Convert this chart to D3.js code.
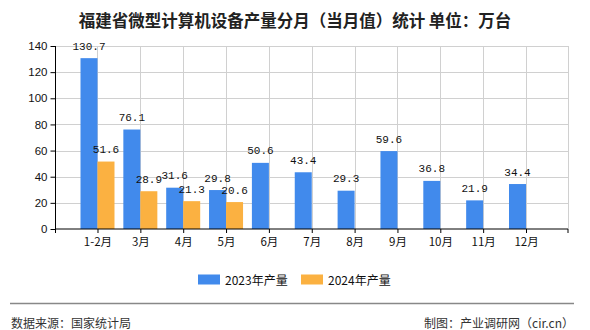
<!DOCTYPE html>
<html>
<head>
<meta charset="utf-8">
<script src="https://cdn.jsdelivr.net/npm/d3@7"></script>
<style>
html,body{margin:0;padding:0;background:#fff;}
svg{display:block;}
</style>
</head>
<body>
<svg id="chart" width="590" height="330"></svg>
<script>
const categories = ["1-2月","3月","4月","5月","6月","7月","8月","9月","10月","11月","12月"];
const values2023 = [130.7,76.1,31.6,29.8,50.6,43.4,29.3,59.6,36.8,21.9,34.4];
const values2024 = [51.6,28.9,21.3,20.6,null,null,null,null,null,null,null];
const yTicks = [0,20,40,60,80,100,120,140];
const seriesNames = ["2023年产量","2024年产量"];
const colors = ["#418AEC","#FBB141"];

(function(){
const svg = d3.select("#chart");
const pL = 55.5, pR = 568, pT = 46, pB = 229;
const barW = 17;

const x = d3.scalePoint().domain(categories).range([pL, pR]).padding(0.98);
const y = d3.scaleLinear().domain([0,140]).range([pB, pT]);

// title
svg.append("text")
  .attr("x", 295).attr("y", 27)
  .attr("text-anchor","middle")
  .attr("font-family","'Noto Sans CJK SC', sans-serif")
  .attr("font-size","16.5px")
  .attr("font-weight","bold")
  .attr("fill","#222")
  .text("福建省微型计算机设备产量分月（当月值）统计 单位：万台");

// grid
const grid = svg.append("g");
grid.selectAll("line.h").data(yTicks.filter(d=>d>0)).enter().append("line")
  .attr("x1", pL).attr("x2", pR)
  .attr("y1", d=>Math.round(y(d))+0.5).attr("y2", d=>Math.round(y(d))+0.5)
  .attr("stroke","#d0d0d0").attr("stroke-width",1);
grid.selectAll("line.v").data(categories).enter().append("line")
  .attr("x1", d=>Math.round(x(d))+0.5).attr("x2", d=>Math.round(x(d))+0.5)
  .attr("y1", pT).attr("y2", pB)
  .attr("stroke","#d0d0d0").attr("stroke-width",1);
grid.append("line")
  .attr("x1", pR+0.5).attr("x2", pR+0.5).attr("y1", pT).attr("y2", pB)
  .attr("stroke","#d0d0d0").attr("stroke-width",1);

// bars
const bars = svg.append("g");
bars.selectAll("rect.s0").data(categories).enter().append("rect")
  .attr("x", (d,i)=>x(d)-barW).attr("width", barW)
  .attr("y", (d,i)=>y(values2023[i])).attr("height",(d,i)=>pB-y(values2023[i]))
  .attr("fill", colors[0]);
bars.selectAll("rect.s1").data(categories.filter((d,i)=>values2024[i]!=null)).enter().append("rect")
  .attr("x", d=>x(d)).attr("width", barW)
  .attr("y", d=>y(values2024[categories.indexOf(d)]))
  .attr("height", d=>pB-y(values2024[categories.indexOf(d)]))
  .attr("fill", colors[1]);

// value labels
const lab = svg.append("g")
  .attr("font-family","'Liberation Mono', 'DejaVu Sans Mono', monospace")
  .attr("font-size","11px").attr("fill","#111").attr("text-anchor","middle");
categories.forEach((c,i)=>{
  lab.append("text").attr("x", x(c)-barW/2).attr("y", y(values2023[i])-8.5).text(values2023[i].toFixed(1));
  if(values2024[i]!=null)
    lab.append("text").attr("x", x(c)+barW/2).attr("y", y(values2024[i])-8.5).text(values2024[i].toFixed(1));
});

// y axis
const yAxis = d3.axisLeft(y).tickValues(yTicks).tickSize(5).tickPadding(3);
const gy = svg.append("g").attr("transform",`translate(${pL},0)`).call(yAxis);
gy.select(".domain").attr("stroke","#000").attr("d",`M0,${pT}V${pB}`);
gy.selectAll(".tick line").attr("stroke","#000");
gy.selectAll("text").attr("font-family","'Liberation Sans', Arial, sans-serif").attr("font-size","11.5px").attr("fill","#111");

// x axis
const xAxis = d3.axisBottom(x).tickSize(4).tickPadding(5);
const gx = svg.append("g").attr("transform",`translate(0,${pB})`).call(xAxis);
gx.select(".domain").attr("stroke","#000").attr("d",`M${pL},4V0H${pR}V4`);
gx.selectAll(".tick line").attr("stroke","#000");
gx.selectAll("text").attr("font-family","'Noto Sans CJK SC', sans-serif").attr("font-size","11.5px").attr("fill","#111");

// legend
const lg = svg.append("g").attr("font-family","'Noto Sans CJK SC', sans-serif").attr("font-size","12px").attr("fill","#111");
const lx = [198, 301];
seriesNames.forEach((n,i)=>{
  lg.append("rect").attr("x", lx[i]).attr("y",274.5).attr("width",22).attr("height",10).attr("fill",colors[i]);
  lg.append("text").attr("x", lx[i]+27).attr("y",284.5).text(n);
});

// footer
svg.append("line").attr("x1",10).attr("x2",574).attr("y1",303.5).attr("y2",303.5).attr("stroke","#888").attr("stroke-width",1.5);
svg.append("text").attr("x",11).attr("y",328).attr("font-family","'Noto Sans CJK SC', sans-serif").attr("font-size","12px").attr("fill","#333").text("数据来源：国家统计局");
svg.append("text").attr("x",574).attr("y",328).attr("text-anchor","end").attr("font-family","'Noto Sans CJK SC', sans-serif").attr("font-size","12px").attr("fill","#333").text("制图：产业调研网（cir.cn）");
})();
</script>
</body>
</html>
